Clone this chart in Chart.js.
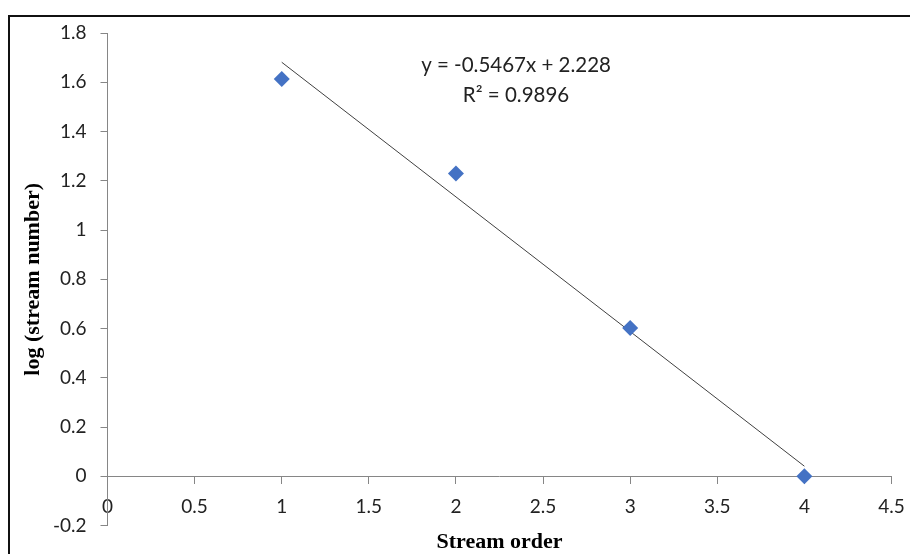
<html>
<head>
    <meta charset="utf-8">
    <script src="https://cdn.jsdelivr.net/npm/chart.js"></script>
    <style>
        body { margin: 0; background: #fff; overflow: hidden; }
        .moldura { position: absolute; left: 8px; top: 15px; width: 1000px; height: 700px;
                   border-top: 2px solid #111; border-left: 2px solid #111; }
        #grafico { position: absolute; left: 0; top: 0; }
    </style>
    <title>Stream order</title>
</head>
<body>
    <div class="moldura"></div>
    <canvas id="grafico" width="910" height="554"></canvas>
    <script>
        // dados
        var ordens = [1, 2, 3, 4];
        var logNumero = [1.613, 1.230, 0.602, 0.0];
        var xTicks = [0, 0.5, 1, 1.5, 2, 2.5, 3, 3.5, 4, 4.5];
        var yTicks = [-0.2, 0, 0.2, 0.4, 0.6, 0.8, 1, 1.2, 1.4, 1.6, 1.8];
        var inclinacao = -0.5467;
        var intercepto = 2.228;
        var equacao = ['y = -0.5467x + 2.228', 'R\u00b2 = 0.9896'];

        var pontos = ordens.map(function (x, i) { return { x: x, y: logNumero[i] }; });
        var tendencia = [ordens[0], ordens[ordens.length - 1]].map(function (x) {
            return { x: x, y: inclinacao * x + intercepto };
        });

        var corEixo = '#868686';
        var fonteTick = { family: 'Lato', size: 19 };

        // escreve a equação da linha de tendência
        var textoEquacao = {
            id: 'textoEquacao',
            afterDatasetsDraw: function (chart) {
                var ctx = chart.ctx;
                var cx = chart.scales.x.getPixelForValue(2.345);
                var cy = chart.scales.y.getPixelForValue(1.668);
                ctx.save();
                ctx.fillStyle = '#222';
                ctx.font = '20.5px Lato';
                ctx.textAlign = 'center';
                ctx.textBaseline = 'middle';
                ctx.fillText(equacao[0], cx, cy);
                ctx.fillText(equacao[1], cx, cy + 30);
                ctx.restore();
            }
        };

        var ctx = document.getElementById('grafico').getContext('2d');
        var grafico = new Chart(ctx, {
            type: 'scatter',
            data: {
                datasets: [{
                    label: 'log (stream number)',
                    data: pontos,
                    pointStyle: 'rectRot',
                    pointRadius: 8,
                    backgroundColor: '#4472C4',
                    borderColor: '#4472C4',
                    borderWidth: 0
                }, {
                    type: 'line',
                    label: 'Linear',
                    data: tendencia,
                    borderColor: '#404040',
                    borderWidth: 1,
                    pointRadius: 0,
                    fill: false
                }]
            },
            options: {
                responsive: false,
                animation: false,
                devicePixelRatio: 1,
                layout: { padding: { top: 33, right: 18.5, bottom: -2, left: 0 } },
                plugins: {
                    legend: { display: false },
                    tooltip: { enabled: false },
                    title: {
                        display: true,
                        text: 'Stream order',
                        position: 'bottom',
                        fullSize: false,
                        color: '#000',
                        padding: { top: 4, bottom: 0 },
                        font: { family: 'Liberation Serif', size: 22, weight: 'bold' }
                    }
                },
                scales: {
                    x: {
                        type: 'linear',
                        position: { y: 0 },
                        min: 0,
                        max: 4.5,
                        afterBuildTicks: function (s) { s.ticks = xTicks.map(function (v) { return { value: v }; }); },
                        afterFit: function (s) { s.paddingLeft = 0; s.paddingRight = 0; },
                        ticks: { color: '#222', font: fonteTick, padding: 12, maxRotation: 0,
                                 callback: function (v) { return String(v); } },
                        grid: { drawOnChartArea: false, drawTicks: true, tickLength: 7, color: corEixo },
                        border: { color: corEixo, width: 1 }
                    },
                    y: {
                        type: 'linear',
                        min: -0.2,
                        max: 1.8,
                        afterBuildTicks: function (s) { s.ticks = yTicks.map(function (v) { return { value: v }; }); },
                        afterFit: function (s) { s.width = 107.5; s.paddingTop = 0; s.paddingBottom = 0; },
                        ticks: { color: '#222', font: fonteTick, padding: 14,
                                 callback: function (v) { return String(v); } },
                        grid: { drawOnChartArea: false, drawTicks: true, tickLength: 7, color: corEixo },
                        border: { color: corEixo, width: 1 },
                        title: {
                            display: true,
                            text: 'log (stream number)',
                            color: '#000',
                            padding: { top: 20, bottom: 0 },
                            font: { family: 'Liberation Serif', size: 22, weight: 'bold' }
                        }
                    }
                }
            },
            plugins: [textoEquacao]
        });
    </script>
</body>
</html>
